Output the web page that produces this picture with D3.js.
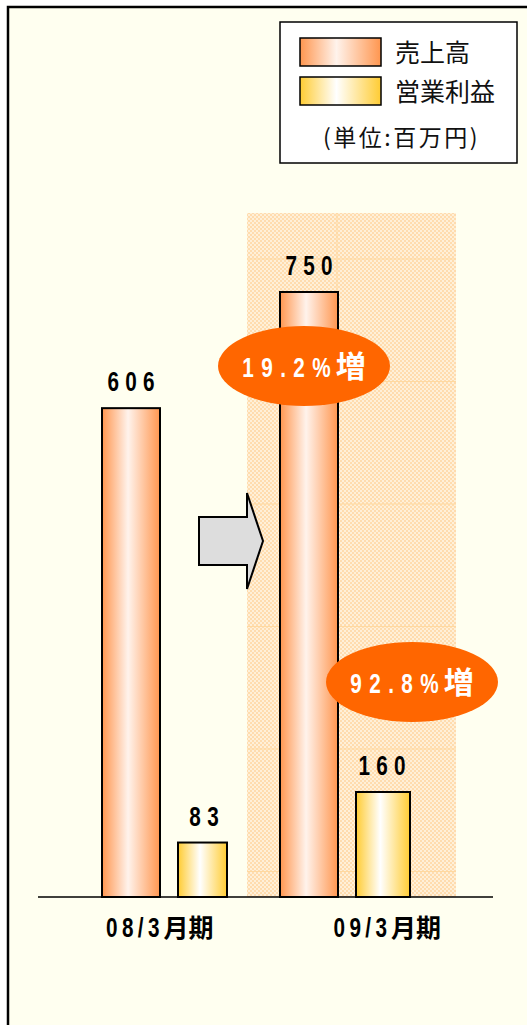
<!DOCTYPE html>
<html>
<head>
<meta charset="utf-8">
<script src="https://cdn.jsdelivr.net/npm/d3@7"></script>
<style>
  body { margin: 0; background: #fff; }
  svg { display: block; }
</style>
</head>
<body>
<div id="chart"></div>
<script>
// data
const categories = ['08/3月期', '09/3月期']
const sales = [606, 750]
const profit = [83, 160]
const growth = ['19.2%増', '92.8%増']
const seriesNames = ['売上高', '営業利益']
const unitLabel = '(単位:百万円)'

const width = 527,
  height = 1025,
  baseline = 897

const svg = d3.select('#chart')
  .append('svg')
  .attr('width', width)
  .attr('height', height)

const defs = svg.append('defs')

// bar gradients
let grad = (id, edge, mid) => {
  const g = defs.append('linearGradient').attr('id', id)
    .attr('x1', '0%').attr('x2', '100%').attr('y1', '0%').attr('y2', '0%')
  g.append('stop').attr('offset', '0%').attr('stop-color', edge)
  g.append('stop').attr('offset', '45%').attr('stop-color', mid)
  g.append('stop').attr('offset', '100%').attr('stop-color', edge)
}
grad('gSales', '#ff964f', '#fff3ec')
grad('gProfit', '#ffcc33', '#ffffff')

// dotted pattern for highlight
const pat = defs.append('pattern').attr('id', 'dots')
  .attr('width', 4).attr('height', 4).attr('patternUnits', 'userSpaceOnUse')
pat.append('rect').attr('width', 4).attr('height', 4).attr('fill', '#fff0d8')
pat.append('rect').attr('width', 2).attr('height', 2).attr('fill', '#ffdcae')
pat.append('rect').attr('x', 2).attr('y', 2).attr('width', 2).attr('height', 2).attr('fill', '#ffdcae')

// frame
svg.append('rect').attr('x', 8).attr('y', 7).attr('width', width).attr('height', height)
  .attr('fill', '#fffff0')
svg.append('path').attr('d', `M8,${height} L8,7 L${width},7`)
  .attr('fill', 'none').attr('stroke', '#000').attr('stroke-width', 2.5)

// scales
const xBars = d3.scalePoint().domain(categories).range([166, 344])
const xLabels = d3.scaleBand().domain(categories).range([38, 493])
const ySales = d3.scaleLinear().domain([0, 750]).range([baseline, baseline - 605])
const yProfit = d3.scaleLinear().domain([0, 160]).range([baseline, baseline - 105])

// text helper: narrow latin run + full-size CJK run, centred on x
const latinFont = '"Liberation Sans", Arial, sans-serif'
const cjkFont = '"Noto Sans CJK JP", sans-serif'
let mixedText = (parent, x, y, str, o) => {
  const m = str.match(/^([\x00-\x7f]*)(.*)$/)
  const g = parent.append('g')
  const a = g.append('text')
    .attr('font-family', latinFont).attr('font-weight', 'bold')
    .attr('font-size', o.size).attr('letter-spacing', o.ls)
    .attr('fill', o.fill)
    .text(m[1])
  const wa = (a.node().getComputedTextLength() - o.ls) * o.sx
  a.attr('transform', `scale(${o.sx},1)`)
  let w = wa
  if (m[2]) {
    const b = g.append('text')
      .attr('x', wa + o.gap)
      .attr('font-family', cjkFont).attr('font-weight', 'bold')
      .attr('font-size', o.cjkSize).attr('fill', o.fill)
      .text(m[2])
    w = wa + o.gap + b.node().getComputedTextLength()
  }
  g.attr('transform', `translate(${x - w / 2},${y})`)
}

// highlight area on latest year
const hx = xBars(categories[1])
svg.append('rect')
  .attr('x', hx - 97).attr('y', 213)
  .attr('width', 209).attr('height', baseline - 213)
  .attr('fill', 'url(#dots)')
svg.append('g').selectAll('line')
  .data(d3.range(0, 6))
  .enter()
  .append('line')
  .attr('x1', hx - 97).attr('x2', hx + 112)
  .attr('y1', d => baseline - 25.5 - d * 122.5)
  .attr('y2', d => baseline - 25.5 - d * 122.5)
  .attr('stroke', '#ffd9a0').attr('stroke-width', 1)
svg.append('line')
  .attr('x1', hx - 7).attr('x2', hx - 7)
  .attr('y1', 213).attr('y2', baseline)
  .attr('stroke', '#ffd9a0').attr('stroke-width', 1)

// arrow
svg.append('path')
  .attr('d', 'M199,517 L247,517 L247,493 L263,541 L247,589 L247,565 L199,565 Z')
  .attr('fill', '#dddddd').attr('stroke', '#000').attr('stroke-width', 2)

// bars
svg.selectAll('rect.sales')
  .data(sales)
  .enter()
  .append('rect')
  .attr('class', 'sales')
  .attr('x', (d, i) => xBars(categories[i]) - 64)
  .attr('y', d => ySales(d))
  .attr('width', 58)
  .attr('height', d => baseline - ySales(d))
  .attr('fill', 'url(#gSales)')
  .attr('stroke', '#000').attr('stroke-width', 2)

svg.selectAll('rect.profit')
  .data(profit)
  .enter()
  .append('rect')
  .attr('class', 'profit')
  .attr('x', (d, i) => xBars(categories[i]) + 12)
  .attr('y', d => yProfit(d))
  .attr('width', (d, i) => i === 0 ? 49 : 54)
  .attr('height', d => baseline - yProfit(d))
  .attr('fill', 'url(#gProfit)')
  .attr('stroke', '#000').attr('stroke-width', 2)

// value labels
const numStyle = { size: 28, ls: 8.5, sx: 0.74, fill: '#000' }
sales.forEach((d, i) => mixedText(svg, xBars(categories[i]) - 35, ySales(d) - 17, String(d), numStyle))
profit.forEach((d, i) => mixedText(svg, xBars(categories[i]) + 38, yProfit(d) - 17, String(d), numStyle))

// growth ellipses
const growthPos = [
  { x: hx - 40, y: 366 },
  { x: hx + 68, y: 682 }
]
growth.forEach((d, i) => {
  svg.append('ellipse')
    .attr('cx', growthPos[i].x).attr('cy', growthPos[i].y)
    .attr('rx', 86).attr('ry', 40)
    .attr('fill', '#ff6600')
  mixedText(svg, growthPos[i].x, growthPos[i].y + 11, d,
    { size: 28, ls: 10, sx: 0.74, fill: '#fff', gap: 5, cjkSize: 30 })
})

// axis
svg.append('line')
  .attr('x1', 38).attr('x2', 493)
  .attr('y1', baseline).attr('y2', baseline)
  .attr('stroke', '#000').attr('stroke-width', 1.5)

categories.forEach(c => {
  mixedText(svg, xLabels(c) + xLabels.bandwidth() / 2 + 8, 937, c,
    { size: 28, ls: 6, sx: 0.74, fill: '#000', gap: 4, cjkSize: 25 })
})

// legend
const lg = svg.append('g').attr('transform', 'translate(280,22)')
lg.append('rect').attr('width', 237).attr('height', 141)
  .attr('fill', '#fff').attr('stroke', '#000').attr('stroke-width', 1.5)
const items = lg.selectAll('g.item')
  .data(seriesNames)
  .enter()
  .append('g')
  .attr('class', 'item')
  .attr('transform', (d, i) => `translate(20,${16 + i * 39})`)
items.append('rect')
  .attr('width', 81).attr('height', 28)
  .attr('fill', (d, i) => i === 0 ? 'url(#gSales)' : 'url(#gProfit)')
  .attr('stroke', '#000').attr('stroke-width', 1.5)
items.append('text')
  .attr('x', 95).attr('y', 24)
  .attr('font-family', cjkFont)
  .attr('font-size', 25)
  .attr('fill', '#111')
  .text(d => d)
lg.append('text')
  .attr('x', 43).attr('y', 124)
  .attr('font-family', cjkFont)
  .attr('font-size', 23)
  .attr('letter-spacing', 2.5)
  .attr('fill', '#111')
  .text(unitLabel)
</script>
</body>
</html>
